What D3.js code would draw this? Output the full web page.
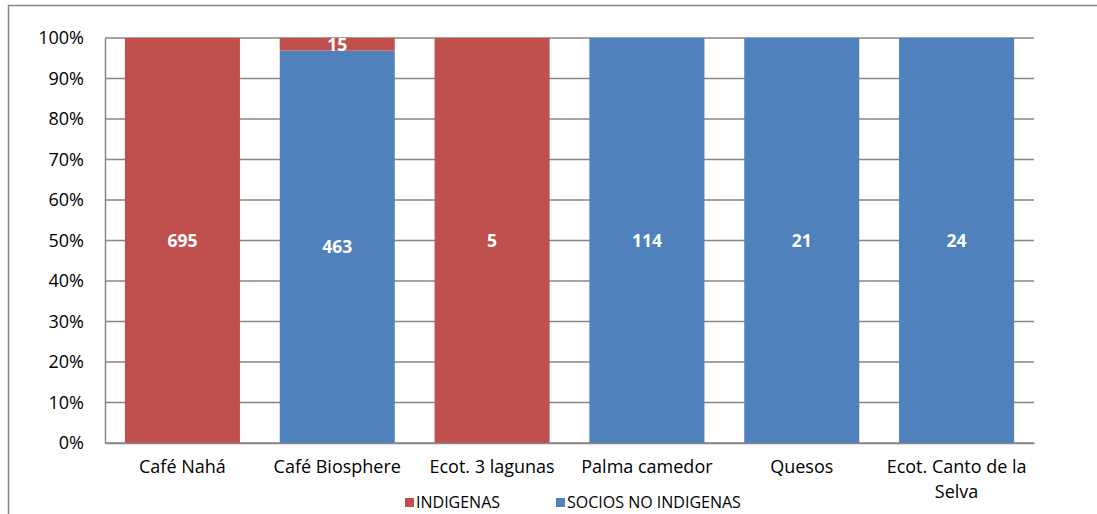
<!DOCTYPE html>
<html>
<head>
<meta charset="utf-8">
<script src="https://cdn.jsdelivr.net/npm/d3@7"></script>
<style>
  html, body { margin: 0; padding: 0; background: #fff; }
  svg { display: block; }
  text { font-family: "Open Sans", "Noto Sans", "Liberation Sans", sans-serif; }
</style>
</head>
<body>
<svg id="chart" width="1097" height="514"></svg>
<script>
// Members per organisation, split by group
const categories = ["Café Nahá", "Café Biosphere", "Ecot. 3 lagunas", "Palma camedor", "Quesos", "Ecot. Canto de la Selva"];
const indigenas = [695, 15, 5, 0, 0, 0];
const sociosNoIndigenas = [0, 463, 0, 114, 21, 24];
const seriesNames = ["INDIGENAS", "SOCIOS NO INDIGENAS"];
const seriesColors = ["#C0504D", "#4F81BD"];
const tickValues = [0, 0.1, 0.2, 0.3, 0.4, 0.5, 0.6, 0.7, 0.8, 0.9, 1.0];

const svg = d3.select("#chart");
const W = 1097, H = 514;
const plot = { left: 105, right: 1034, top: 38, bottom: 443 };
const colorOf = d3.scaleOrdinal().domain(seriesNames).range(seriesColors);

// Outer chart frame (top and left edges visible)
svg.append("path")
  .attr("d", `M8.5,${H} L8.5,5.5 L${W},5.5`)
  .attr("fill", "none").attr("stroke", "#868686").attr("stroke-width", 1.5);

const rows = categories.map((c, i) => ({
  cat: c, INDIGENAS: indigenas[i], "SOCIOS NO INDIGENAS": sociosNoIndigenas[i]
}));

// Non-indigenous members stacked at the bottom, indigenous on top
const stack = d3.stack().keys([seriesNames[1], seriesNames[0]]).offset(d3.stackOffsetExpand);
const layers = stack(rows);

const x = d3.scaleBand().domain(categories).range([plot.left, plot.right]).paddingInner(0.257).paddingOuter(0.1285);
const y = d3.scaleLinear().domain([0, 1]).range([plot.bottom, plot.top]);

// Gridlines
svg.append("g").selectAll("line").data(tickValues).join("line")
  .attr("x1", plot.left).attr("x2", plot.right)
  .attr("y1", d => y(d)).attr("y2", d => y(d))
  .attr("stroke", "#868686").attr("stroke-width", 1.5);

// Y axis
const yAxis = svg.append("g").attr("transform", `translate(${plot.left},0)`)
  .call(d3.axisLeft(y).tickValues(tickValues).tickFormat(d3.format(".0%")).tickSize(0).tickPadding(21));
yAxis.select(".domain").attr("stroke", "#868686").attr("stroke-width", 1.5);
yAxis.selectAll("text").attr("font-size", 18).attr("fill", "#000");

// Bars
const g = svg.append("g");
layers.forEach(layer => {
  g.selectAll(null).data(layer.filter(d => d[1] - d[0] > 0)).join("rect")
    .attr("x", d => x(d.data.cat))
    .attr("width", x.bandwidth())
    .attr("y", d => y(d[1]))
    .attr("height", d => y(d[0]) - y(d[1]))
    .attr("fill", colorOf(layer.key));
});

// Value labels
layers.forEach(layer => {
  g.selectAll(null).data(layer.filter(d => d.data[layer.key] > 0)).join("text")
    .attr("x", d => x(d.data.cat) + x.bandwidth() / 2)
    .attr("y", d => (y(d[0]) + y(d[1])) / 2)
    .attr("dy", "0.36em")
    .attr("text-anchor", "middle")
    .attr("font-size", 17.5).attr("font-weight", "bold").attr("fill", "#fff")
    .text(d => d.data[layer.key]);
});

// Category labels (last one wrapped over two lines)
const xAxis = svg.append("g").attr("transform", `translate(0,${plot.bottom})`)
  .call(d3.axisBottom(x).tickSize(0).tickPadding(17));
xAxis.select(".domain").attr("stroke", "#868686").attr("stroke-width", 1.5);
xAxis.selectAll("text").attr("font-size", 18).attr("fill", "#000")
  .each(function(d) {
    const t = d3.select(this);
    if (d === "Ecot. Canto de la Selva") {
      t.text(null);
      t.append("tspan").attr("x", 0).attr("dy", "0.71em").text("Ecot. Canto de la");
      t.append("tspan").attr("x", 0).attr("dy", "1.4em").text("Selva");
    }
  });

// Legend
const legendItems = [
  { name: seriesNames[0], x: 405 },
  { name: seriesNames[1], x: 556 }
];
const lg = svg.append("g");
legendItems.forEach(it => {
  lg.append("rect").attr("x", it.x).attr("y", 498).attr("width", 9).attr("height", 9).attr("fill", colorOf(it.name));
  lg.append("text").attr("x", it.x + 11).attr("y", 507.5)
    .attr("font-size", 16).attr("fill", "#000").text(it.name);
});
</script>
</body>
</html>
